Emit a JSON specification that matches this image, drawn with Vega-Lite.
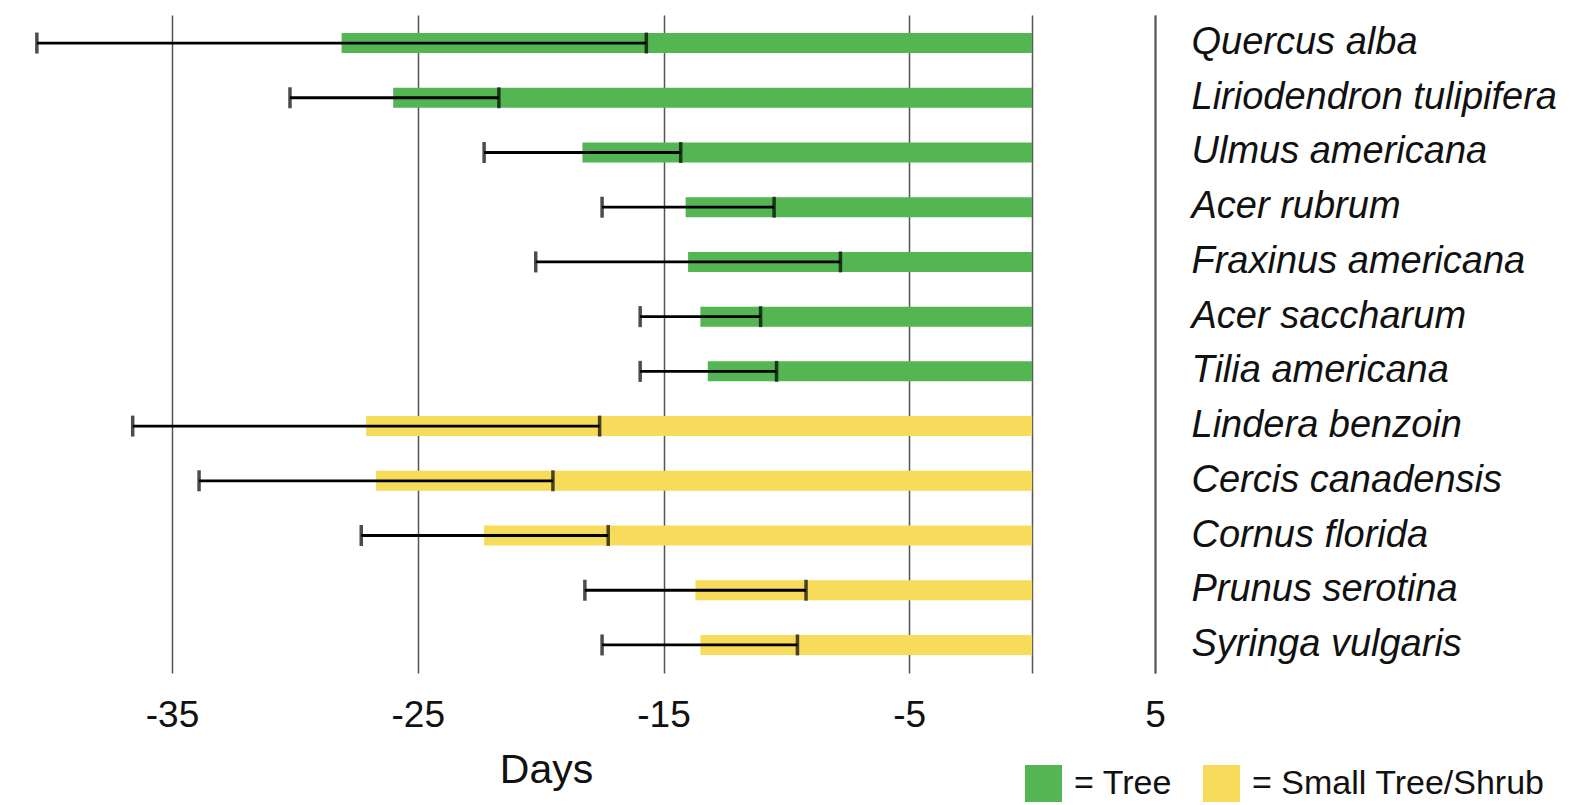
{
  "$schema": "https://vega.github.io/schema/vega-lite/v6.json",
  "width": 1155,
  "height": 658,
  "autosize": {"type": "none"},
  "padding": {"left": 0, "top": 15, "right": 420, "bottom": 132},
  "background": "white",
  "config": {"view": {"stroke": null}, "font": "Liberation Sans"},
  "data": {
    "values": [
      {"species": "Quercus alba", "type": "Tree", "mean": -28.1, "lo": -40.5, "hi": -15.7},
      {"species": "Liriodendron tulipifera", "type": "Tree", "mean": -26.0, "lo": -30.2, "hi": -21.7},
      {"species": "Ulmus americana", "type": "Tree", "mean": -18.3, "lo": -22.3, "hi": -14.3},
      {"species": "Acer rubrum", "type": "Tree", "mean": -14.1, "lo": -17.5, "hi": -10.5},
      {"species": "Fraxinus americana", "type": "Tree", "mean": -14.0, "lo": -20.2, "hi": -7.8},
      {"species": "Acer saccharum", "type": "Tree", "mean": -13.5, "lo": -15.95, "hi": -11.05},
      {"species": "Tilia americana", "type": "Tree", "mean": -13.2, "lo": -15.95, "hi": -10.4},
      {"species": "Lindera benzoin", "type": "Small Tree/Shrub", "mean": -27.1, "lo": -36.6, "hi": -17.6},
      {"species": "Cercis canadensis", "type": "Small Tree/Shrub", "mean": -26.7, "lo": -33.9, "hi": -19.5},
      {"species": "Cornus florida", "type": "Small Tree/Shrub", "mean": -22.3, "lo": -27.3, "hi": -17.25},
      {"species": "Prunus serotina", "type": "Small Tree/Shrub", "mean": -13.7, "lo": -18.2, "hi": -9.2},
      {"species": "Syringa vulgaris", "type": "Small Tree/Shrub", "mean": -13.5, "lo": -17.5, "hi": -9.55}
    ]
  },
  "encoding": {
    "y": {
      "field": "species", "type": "nominal", "sort": null,
      "scale": {"paddingInner": 0.635, "paddingOuter": 0.33},
      "axis": {
        "orient": "right", "title": null, "ticks": false, "domain": true,
        "domainColor": "#555555", "domainWidth": 2, "grid": false,
        "labelFont": "Liberation Sans", "labelFontStyle": "italic", "labelFontSize": 38,
        "labelColor": "#111111", "labelPadding": 36, "labelLimit": 600
      }
    }
  },
  "layer": [
    {
      "mark": {"type": "bar"},
      "encoding": {
        "x": {
          "field": "mean", "type": "quantitative",
          "scale": {"domain": [-42, 5], "nice": false, "zero": false},
          "axis": {
            "values": [-35, -25, -15, -5, 0, 5],
            "labelExpr": "datum.value == 0 ? '' : toString(datum.value)",
            "labelFlush": false,
            "grid": true, "gridColor": "#555555", "gridWidth": 1.5,
            "domain": false, "ticks": false,
            "labelFontSize": 37, "labelPadding": 24, "labelColor": "#111111",
            "title": "Days", "titleFontSize": 41, "titleFontWeight": "normal",
            "titleColor": "#111111", "titleX": 546, "titleY": 77, "titleBaseline": "top"
          }
        },
        "x2": {"datum": 0},
        "color": {
          "field": "type", "type": "nominal",
          "scale": {"domain": ["Tree", "Small Tree/Shrub"], "range": ["#54b553", "#f7db5a"]},
          "legend": {
            "title": null, "orient": "none", "legendX": 1025, "legendY": 750,
            "direction": "horizontal", "symbolType": "square", "symbolSize": 1369,
            "symbolStrokeWidth": 0, "labelFontSize": 34, "labelColor": "#111111",
            "labelExpr": "'= ' + datum.label", "labelOffset": 12, "columnPadding": 31,
            "padding": 0, "labelLimit": 400
          }
        }
      }
    },
    {
      "mark": {"type": "rule", "color": "black", "strokeWidth": 2.8},
      "encoding": {
        "x": {"field": "lo", "type": "quantitative"},
        "x2": {"field": "hi"}
      }
    },
    {
      "mark": {"type": "tick", "color": "black", "thickness": 3.5, "size": 21},
      "encoding": {"x": {"field": "lo", "type": "quantitative"}}
    },
    {
      "mark": {"type": "tick", "color": "black", "thickness": 3.5, "size": 21},
      "encoding": {"x": {"field": "hi", "type": "quantitative"}}
    }
  ]
}
